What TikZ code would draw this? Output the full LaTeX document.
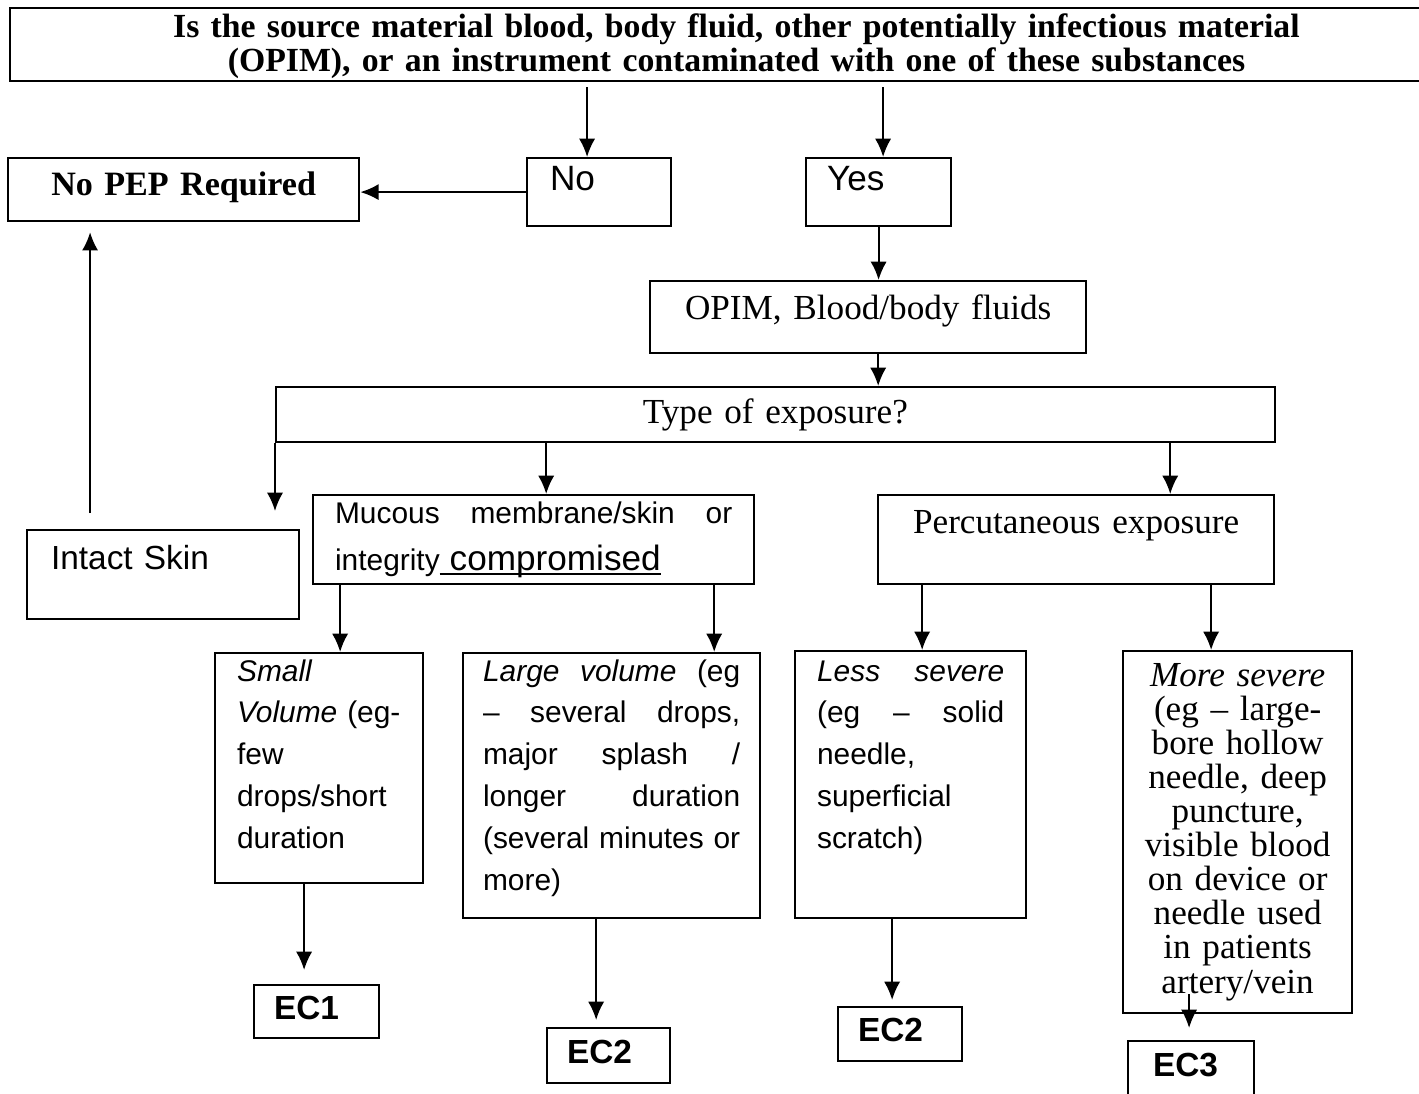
\documentclass[tikz,border=0pt]{standalone}
\usepackage{fontspec}
\setmainfont{Liberation Serif}
\setsansfont{Liberation Sans}
\usetikzlibrary{arrows.meta}
\tikzset{>={Latex[length=5.2pt, width=4.6pt]}}
\tikzstyle{box} = [rectangle, draw=black, line width=0.6pt, inner sep=0pt, anchor=north west]
\tikzstyle{link} = [->, draw=black, line width=0.6pt]
\newcommand{\fillline}[1]{\leavevmode\hbox to\hsize{#1}}
\newcommand{\uword}[1]{\setbox0\hbox{#1}\rlap{\rule[-1.2pt]{\wd0}{0.5pt}}\box0}

\begin{document}
\begin{tikzpicture}[x=0.01cm, y=-0.01cm]
\useasboundingbox (0, 0) rectangle (1419, 1093);

\node [box, minimum width=14.52cm, minimum height=0.73cm, text width=13cm, align=center, text height=0.29cm, text depth=0.44cm, font=\bfseries\fontsize{9.6}{8.8}\selectfont] (q) at (9, 7) {Is the source material blood, body fluid, other potentially infectious material\\(OPIM), or an instrument contaminated with one of these substances};
\node [box, minimum width=3.51cm, minimum height=0.63cm, text width=3.3cm, align=center, text height=0.37cm, text depth=0.26cm, font=\bfseries\fontsize{9.7}{12}\selectfont] (nopep) at (7, 157) {No PEP Required};
\node [box, minimum width=1.44cm, minimum height=0.68cm, text width=0.98cm, align=left, text height=0.32cm, text depth=0.36cm, font=\sffamily\fontsize{10}{12}\selectfont] (no) at (526, 157) {No};
\node [box, minimum width=1.45cm, minimum height=0.68cm, text width=1.03cm, align=left, text height=0.32cm, text depth=0.36cm, font=\sffamily\fontsize{10}{12}\selectfont] (yes) at (805, 157) {Yes};
\node [box, minimum width=4.36cm, minimum height=0.72cm, text width=4cm, align=center, text height=0.38cm, text depth=0.34cm, font=\fontsize{10}{12}\selectfont] (opim) at (649, 280) {OPIM, Blood/body fluids};
\node [box, minimum width=9.98cm, minimum height=0.55cm, text width=9cm, align=center, text height=0.36cm, text depth=0.19cm, font=\fontsize{10}{12}\selectfont] (type) at (275, 386) {Type of exposure?};

\node [box, minimum width=2.72cm, minimum height=0.89cm, text width=2.24cm, align=left, text height=0.39cm, text depth=0.5cm, font=\sffamily\fontsize{9.5}{11}\selectfont] (intact) at (26, 529) {Intact Skin};
\node [box, minimum width=4.41cm, minimum height=0.89cm, text width=3.97cm, align=left, text height=0.28cm, text depth=0.61cm, font=\sffamily\fontsize{8.5}{13.6}\selectfont] (mucous) at (312, 494) {\fillline{Mucous\hfill membrane/skin\hfill or}\\integrity\uword{\ \fontsize{10}{12}\selectfont compromised}};
\node [box, minimum width=3.96cm, minimum height=0.89cm, text width=3.6cm, align=center, text height=0.38cm, text depth=0.51cm, font=\fontsize{10}{12}\selectfont] (perc) at (877, 494) {Percutaneous exposure};

\node [box, minimum width=2.08cm, minimum height=2.3cm, text width=1.64cm, align=left, text height=0.28cm, text depth=2.02cm, font=\sffamily\fontsize{8.5}{11.9}\selectfont] (small) at (214, 652) {\textit{Small}\\\textit{Volume} (eg-\\few\\drops/short\\duration};
\node [box, minimum width=2.97cm, minimum height=2.65cm, text width=2.57cm, align=left, text height=0.28cm, text depth=2.37cm, font=\sffamily\fontsize{8.5}{11.9}\selectfont] (large) at (462, 652) {\fillline{\textit{Large}\hfill\textit{volume}\hfill(eg}\\\fillline{--\hfill several\hfill drops,}\\\fillline{major\hfill splash\hfill /}\\\fillline{longer\hfill duration}\\\fillline{(several\hfill minutes\hfill or}\\more)};
\node [box, minimum width=2.31cm, minimum height=2.67cm, text width=1.87cm, align=left, text height=0.3cm, text depth=2.37cm, font=\sffamily\fontsize{8.5}{11.9}\selectfont] (less) at (794, 650) {\fillline{\textit{Less}\hfill\textit{severe}}\\\fillline{(eg\hfill--\hfill solid}\\needle,\\superficial\\scratch)};
\node [box, minimum width=2.29cm, minimum height=3.62cm, text width=2.1cm, align=center, text height=0.35cm, text depth=3.27cm, font=\fontsize{10}{9.7}\selectfont] (more) at (1122, 650) {\textit{More severe}\\(eg -- large-\\bore hollow\\needle, deep\\puncture,\\visible blood\\on device or\\needle used\\in patients\\artery/vein};

\node [box, minimum width=1.25cm, minimum height=0.53cm, text width=0.85cm, align=left, text height=0.34cm, text depth=0.19cm, font=\sffamily\bfseries\fontsize{9.5}{11}\selectfont] (ec1) at (253, 984) {EC1};
\node [box, minimum width=1.23cm, minimum height=0.55cm, text width=0.83cm, align=left, text height=0.35cm, text depth=0.2cm, font=\sffamily\bfseries\fontsize{9.5}{11}\selectfont] (ec2a) at (546, 1027) {EC2};
\node [box, minimum width=1.24cm, minimum height=0.54cm, text width=0.84cm, align=left, text height=0.34cm, text depth=0.2cm, font=\sffamily\bfseries\fontsize{9.5}{11}\selectfont] (ec2b) at (837, 1006) {EC2};
\node [box, minimum width=1.26cm, minimum height=0.7cm, text width=0.76cm, align=left, text height=0.35cm, text depth=0.35cm, font=\sffamily\bfseries\fontsize{9.5}{11}\selectfont] (ec3) at (1127, 1040) {EC3};

% top part
\draw [link, shorten <=0.05cm] ([xshift=-0.12cm]no.north |- q.south) to ([xshift=-0.12cm]no.north);
\draw [link, shorten <=0.05cm] ([xshift=0.045cm]yes.north |- q.south) to ([xshift=0.045cm]yes.north);
\draw [link] (no.west) to (no.west -| nopep.east);
\draw [link] (yes.south) to (yes.south |- opim.north);
\draw [link] ([xshift=0.1cm]opim.south) to ([xshift=0.1cm]opim.south |- type.north);

% type of exposure
\draw [link, shorten >=0.18cm] (type.south west) to (type.south west |- intact.north);
\draw [link, shorten <=0.16cm, shorten >=0.1cm] ([xshift=-0.73cm]intact.north) to ([xshift=-0.73cm]intact.north |- nopep.south);
\draw [link] ([xshift=0.125cm]mucous.north |- type.south) to ([xshift=0.125cm]mucous.north);
\draw [link] ([xshift=0.94cm]perc.north |- type.south) to ([xshift=0.94cm]perc.north);

% severity
\draw [link] ([xshift=0.21cm]small.north |- mucous.south) to ([xshift=0.21cm]small.north);
\draw [link] ([xshift=1.025cm]large.north |- mucous.south) to ([xshift=1.025cm]large.north);
\draw [link] ([xshift=0.115cm]less.north |- perc.south) to ([xshift=0.115cm]less.north);
\draw [link] ([xshift=-0.265cm]more.north |- perc.south) to ([xshift=-0.265cm]more.north);

% exposure codes
\draw [link, shorten >=0.14cm] ([xshift=-0.15cm]small.south) to ([xshift=-0.15cm]small.south |- ec1.north);
\draw [link, shorten >=0.07cm] ([xshift=-0.155cm]large.south) to ([xshift=-0.155cm]large.south |- ec2a.north);
\draw [link, shorten >=0.06cm] ([xshift=-0.185cm]less.south) to ([xshift=-0.185cm]less.south |- ec2b.north);
\draw [link, shorten >=0.12cm] ([xshift=-0.02cm, yshift=0.2cm]ec3.north |- more.south) to ([xshift=-0.02cm]ec3.north);
\end{tikzpicture}
\end{document}
